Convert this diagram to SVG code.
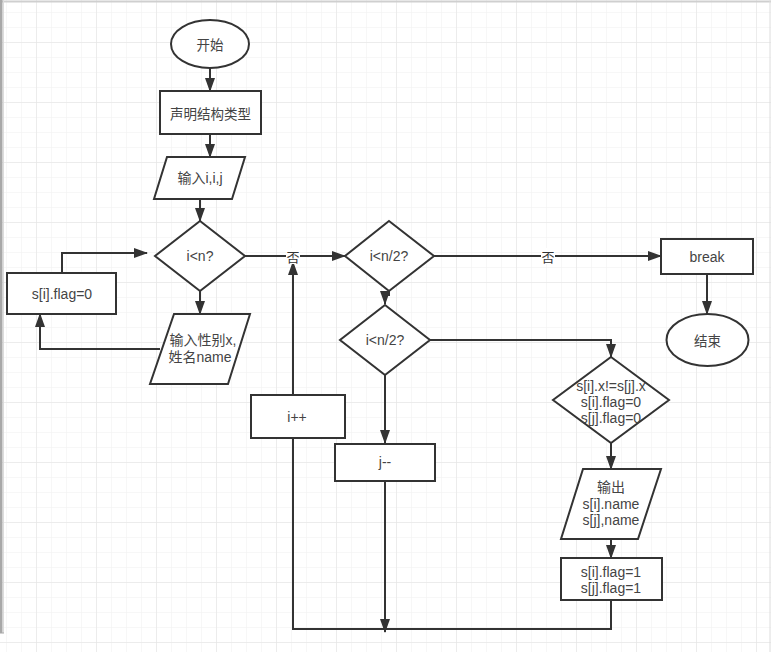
<svg xmlns="http://www.w3.org/2000/svg" width="771" height="652" viewBox="0 0 771 652">
<style>
.s{fill:#fff;stroke:#333;stroke-width:2}
.t{font-family:"Liberation Sans","Noto Sans CJK SC",sans-serif;font-size:14px;fill:#444;text-anchor:middle;dominant-baseline:central}
.z{font-family:"Noto Sans CJK SC",sans-serif;font-size:13.5px;fill:#444;text-anchor:middle;dominant-baseline:central}
.c{fill:none;stroke:#333;stroke-width:2}
.a{marker-end:url(#arr)}
.lbl{font-family:"Noto Sans CJK SC",sans-serif;font-size:13px;fill:#333;text-anchor:middle;dominant-baseline:central}
</style>
<defs>
<pattern id="gmin" patternUnits="userSpaceOnUse" x="6" y="12" width="15" height="15">
<path d="M0,0 H15 M0,0 V15" fill="none" stroke="#efefef" stroke-width="1"/>
</pattern>
<pattern id="gmaj" patternUnits="userSpaceOnUse" x="36" y="42" width="60" height="60">
<path d="M0,0 H60 M0,0 V60" fill="none" stroke="#e2e2e2" stroke-width="1"/>
</pattern>
<marker id="arr" markerUnits="userSpaceOnUse" markerWidth="14" markerHeight="10" refX="13" refY="5" orient="auto">
<path d="M0,0 L14,5 L0,10 Z" fill="#333"/>
</marker>
</defs>
<rect x="0" y="0" width="771" height="652" fill="#fff"/>
<rect x="0" y="0" width="771" height="652" fill="url(#gmin)"/>
<rect x="0" y="0" width="771" height="652" fill="url(#gmaj)"/>
<line x1="0" y1="1.5" x2="771" y2="1.5" stroke="#cfcfcf" stroke-width="2"/>
<rect x="0" y="0" width="2.5" height="633" fill="#a8a8a8"/>
<line x1="3.5" y1="0" x2="3.5" y2="633" stroke="#dcdcdc" stroke-width="1"/>
<line x1="0" y1="633" x2="4" y2="633" stroke="#a8a8a8" stroke-width="1"/>
<line x1="770" y1="0" x2="770" y2="652" stroke="#dcdcdc" stroke-width="1"/>

<g id="connectors">
<path class="c a" d="M210,68 V91"/>
<path class="c a" d="M210,134 V157"/>
<path class="c a" d="M200,199 V221"/>
<path class="c a" d="M200,291 V314"/>
<path class="c a" d="M160,349 H40 V314"/>
<path class="c a" d="M62,273 V253 H147"/>
<path class="c a" d="M245,256 H345"/>
<path class="c a" d="M293,395 V262"/>
<path class="c a" d="M434,256 H661"/>
<path class="c a" d="M707,274 V314"/>
<path class="c a" d="M389,291 V295 H385 V304"/>
<path class="c a" d="M430,340 H611 V357"/>
<path class="c a" d="M385,375 V443"/>
<path class="c a" d="M385,481 V632"/>
<path class="c a" d="M611,443 V469"/>
<path class="c a" d="M611,539 V558"/>
<path class="c" d="M611,600 V629 H293 V438"/>
<rect x="286" y="248" width="14" height="16" fill="#fff"/>
<text class="lbl" x="293" y="256">否</text>
<rect x="541" y="248" width="14" height="16" fill="#fff"/>
<text class="lbl" x="548" y="256">否</text>
</g>

<g id="start">
<ellipse class="s" cx="210" cy="44" rx="39" ry="24"/>
<text class="z" x="210" y="44">开始</text>
</g>
<g id="declare">
<rect class="s" x="160" y="91" width="101" height="43"/>
<text class="z" x="210.5" y="112.5">声明结构类型</text>
</g>
<g id="input-ij">
<polygon class="s" points="167,157 245,157 232,199 154,199"/>
<text class="t" x="200" y="178">输入i,i,j</text>
</g>
<g id="cond-n">
<polygon class="s" points="200,221 245,256 200,291 155,256"/>
<text class="t" x="200" y="256">i&lt;n?</text>
</g>
<g id="input-name">
<polygon class="s" points="174,314 250,314 228,384 150,384"/>
<text class="t" x="203" y="340">输入性别x,</text>
<text class="t" x="200" y="357">姓名name</text>
</g>
<g id="flag0">
<rect class="s" x="7" y="273" width="109" height="41"/>
<text class="t" x="62" y="294">s[i].flag=0</text>
</g>
<g id="cond-n2a">
<polygon class="s" points="389,221 434,256 389,291 345,256"/>
<text class="t" x="389" y="256">i&lt;n/2?</text>
</g>
<g id="cond-n2b">
<polygon class="s" points="385,305 430,340 385,375 340,340"/>
<text class="t" x="385" y="340">i&lt;n/2?</text>
</g>
<g id="break">
<rect class="s" x="661" y="239" width="92" height="35"/>
<text class="t" x="707" y="257">break</text>
</g>
<g id="end">
<ellipse class="s" cx="707.5" cy="340" rx="41" ry="26"/>
<text class="z" x="707.5" y="340">结束</text>
</g>
<g id="cond-x">
<polygon class="s" points="611,357 669,400 611,443 553,400"/>
<text class="t" x="611" y="386">s[i].x!=s[j].x</text>
<text class="t" x="611" y="402">s[i].flag=0</text>
<text class="t" x="611" y="418">s[j].flag=0</text>
</g>
<g id="output">
<polygon class="s" points="583,469 661,469 638,539 561,539"/>
<text class="t" x="611" y="487">输出</text>
<text class="t" x="611" y="504">s[i].name</text>
<text class="t" x="611" y="520">s[j],name</text>
</g>
<g id="flag1">
<rect class="s" x="561" y="558" width="101" height="42"/>
<text class="t" x="611" y="571.5">s[i].flag=1</text>
<text class="t" x="611" y="587.5">s[j].flag=1</text>
</g>
<g id="inc-i">
<rect class="s" x="251" y="395" width="94" height="43"/>
<text class="t" x="297" y="417">i++</text>
</g>
<g id="dec-j">
<rect class="s" x="335" y="444" width="100" height="37"/>
<text class="t" x="385" y="462">j--</text>
</g>
</svg>
